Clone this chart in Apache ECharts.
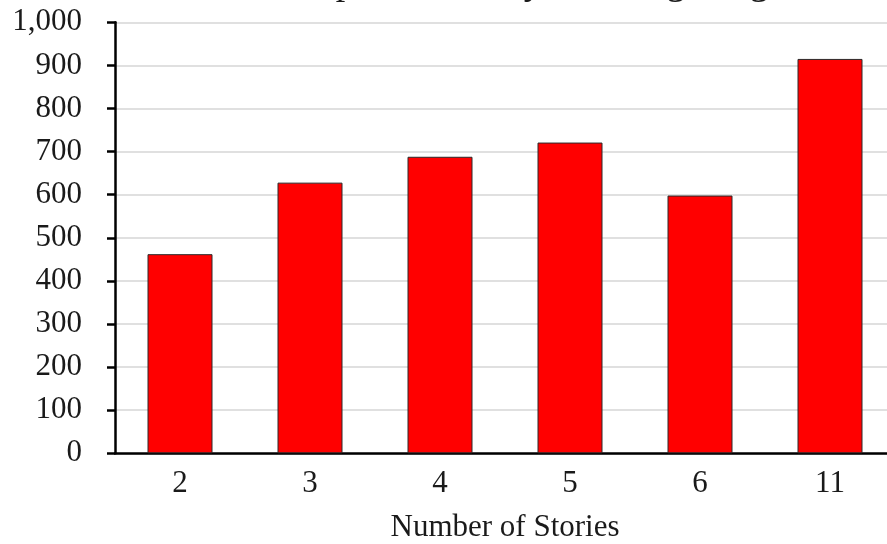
<!DOCTYPE html>
<html>
<head>
<meta charset="utf-8">
<script src="https://cdn.jsdelivr.net/npm/echarts@6/dist/echarts.min.js"></script>
<style>
  html, body { margin: 0; padding: 0; background: #ffffff; }
  #chart { width: 887px; height: 544px; }
</style>
</head>
<body>
<div id="chart"></div>
<script>
// Categories: number of stories in the building
const stories = ['2', '3', '4', '5', '6', '11'];
// Value for each building height
const values = [462, 628, 688, 721, 598, 915];
// Value-axis range and step
const yMin = 0;
const yMax = 1000;
const yStep = 100;

const serif = '"Liberation Serif", "DejaVu Serif", serif';
const ink = '#1a1a1a';

const chart = echarts.init(document.getElementById('chart'), null, { renderer: 'canvas' });

chart.setOption({
  backgroundColor: '#ffffff',
  animation: false,
  title: {
    text: 'Median Rent per Month by Building Height',
    left: 124,
    top: -40,
    textStyle: { fontFamily: serif, fontSize: 38, fontWeight: 'normal', color: ink }
  },
  grid: { left: 115, top: 22.3, width: 780, height: 431, outerBoundsMode: 'none' },
  xAxis: {
    type: 'category',
    data: stories,
    name: 'Number of Stories',
    nameLocation: 'middle',
    nameGap: 59,
    nameTextStyle: { fontFamily: serif, fontSize: 31, color: ink },
    axisLine: { show: true, lineStyle: { color: '#000000', width: 2.5 } },
    axisTick: { show: false },
    axisLabel: { margin: 15, fontFamily: serif, fontSize: 31, color: ink },
    splitLine: { show: false }
  },
  yAxis: {
    type: 'value',
    min: yMin,
    max: yMax,
    interval: yStep,
    axisLine: { show: true, lineStyle: { color: '#000000', width: 2.5 } },
    axisTick: { show: true, inside: false, length: 8, lineStyle: { color: '#000000', width: 2.5 } },
    axisLabel: {
      margin: 33,
      fontFamily: serif,
      fontSize: 31,
      color: ink,
      formatter: v => v.toLocaleString('en-US')
    },
    splitLine: { show: true, lineStyle: { color: '#d6d6d6', width: 1.5 } }
  },
  series: [{
    type: 'bar',
    data: values,
    barWidth: '50%',
    itemStyle: { color: '#ff0000', borderColor: '#2a2a2a', borderWidth: 1 }
  }]
});
</script>
</body>
</html>
